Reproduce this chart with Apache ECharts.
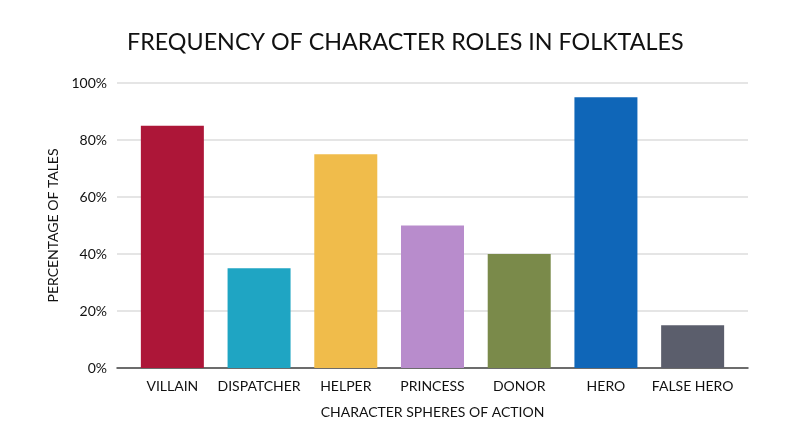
<!DOCTYPE html>
<html>
<head>
<meta charset="utf-8">
<script src="https://cdn.jsdelivr.net/npm/echarts@6/dist/echarts.min.js"></script>
<style>
    html, body { margin: 0; padding: 0; background: #fff; }
    #main { width: 800px; height: 447px; }
</style>
</head>
<body>
<div id="main"></div>
<script>
// 角色類別與比例 (%)
let roles = ['VILLAIN', 'DISPATCHER', 'HELPER', 'PRINCESS', 'DONOR', 'HERO', 'FALSE HERO'];
let percentages = [85, 35, 75, 50, 40, 95, 15];
let roleColors = ['#ad1638', '#1fa5c3', '#f0bc4b', '#b88ccc', '#7a8a4a', '#0f66b8', '#5b5e6c'];

let chart = echarts.init(document.getElementById('main'));
let fontFamily = 'Lato, "Noto Sans", sans-serif';
let textColor = '#111';

// grid 0: 格線與座標軸 (比長條區域稍寬)
// grid 1: 長條本身
let option = {
    animation: false,
    title: {
        text: 'FREQUENCY OF CHARACTER ROLES IN FOLKTALES',
        left: 127,
        top: 31,
        padding: 0,
        textStyle: { fontFamily: fontFamily, fontSize: 23.3, fontWeight: 'normal', color: textColor }
    },
    grid: [
        { left: 117, right: 52, top: 83, bottom: 79 },
        { left: 129, right: 64, top: 83, bottom: 79 }
    ],
    xAxis: [
        {
            gridIndex: 0,
            type: 'value',
            min: 0,
            max: 1,
            axisLabel: { show: false },
            splitLine: { show: false },
            axisTick: { show: false },
            axisLine: { show: true, lineStyle: { color: '#444', width: 1.5 } }
        },
        {
            gridIndex: 1,
            type: 'category',
            data: roles,
            name: 'CHARACTER SPHERES OF ACTION',
            nameLocation: 'middle',
            nameGap: 37,
            nameTextStyle: { fontFamily: fontFamily, fontSize: 14, color: textColor },
            axisLine: { show: false },
            axisTick: { show: false },
            axisLabel: { fontFamily: fontFamily, fontSize: 14, color: textColor, margin: 11, interval: 0 }
        }
    ],
    yAxis: [
        {
            gridIndex: 0,
            type: 'value',
            min: 0,
            max: 100,
            interval: 20,
            name: 'PERCENTAGE OF TALES',
            nameLocation: 'middle',
            nameGap: 56,
            nameTextStyle: { fontFamily: fontFamily, fontSize: 14, color: textColor },
            axisLabel: { fontFamily: fontFamily, fontSize: 14, color: textColor, formatter: '{value}%', margin: 10 },
            splitLine: { lineStyle: { color: '#dddddd', width: 1.5 } },
            axisLine: { show: false },
            axisTick: { show: false }
        },
        {
            gridIndex: 1,
            type: 'value',
            min: 0,
            max: 100,
            show: false
        }
    ],
    series: [{
        type: 'bar',
        xAxisIndex: 1,
        yAxisIndex: 1,
        barWidth: 63,
        data: percentages.map(function (v, i) {
            return { value: v, itemStyle: { color: roleColors[i] } };
        })
    }]
};

chart.setOption(option);
</script>
</body>
</html>
